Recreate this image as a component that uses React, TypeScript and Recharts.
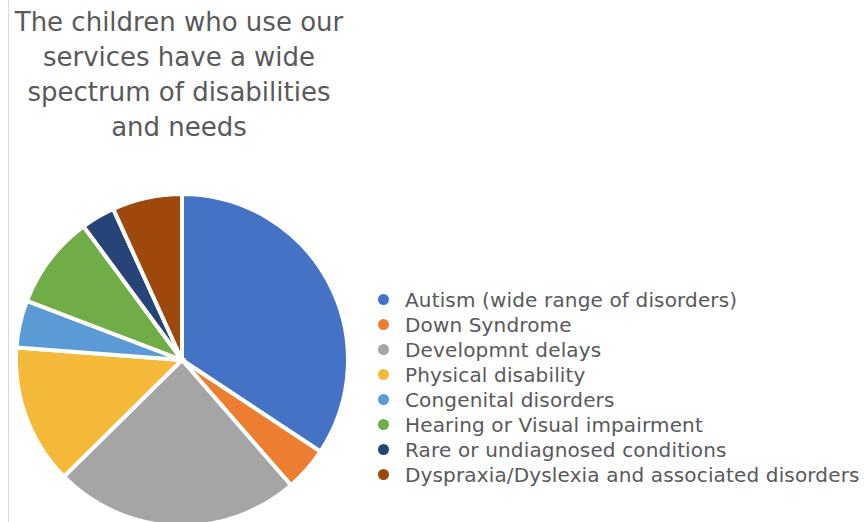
import React from "react";
import { PieChart, Pie, Cell, Legend } from "recharts";

const categories = [
  "Autism (wide range of disorders)",
  "Down Syndrome",
  "Developmnt delays",
  "Physical disability",
  "Congenital disorders",
  "Hearing or Visual impairment",
  "Rare or undiagnosed conditions",
  "Dyspraxia/Dyslexia and associated disorders",
];
const values = [34.3, 4.3, 24.0, 13.6, 4.6, 9.1, 3.3, 6.8];
const colors = ["#4472C4", "#ED7D31", "#A5A5A5", "#F5B93A", "#5B9BD5", "#70AD47", "#264478", "#9E480E"];
const titleLines = ["The children who use our", "services have a wide", "spectrum of disabilities", "and needs"];

const data = categories.map((name, i) => ({ name, value: values[i] }));

const FONT = "DejaVu Sans";

const renderLegend = () => {
  return (
    <div style={{ fontFamily: FONT, fontSize: 20, letterSpacing: 0.15, color: "#595959", whiteSpace: "nowrap" }}>
      {categories.map((name, i) => (
        <div key={i} style={{ display: "flex", alignItems: "center", height: 25 }}>
          <span
            style={{
              display: "inline-block",
              width: 11,
              height: 11,
              borderRadius: 6,
              background: colors[i],
              marginRight: 16,
              flexShrink: 0,
            }}
          />
          <span>{name}</span>
        </div>
      ))}
    </div>
  );
};

export default function App() {
  return (
    <div style={{ position: "absolute", left: 0, top: 0, width: 868, height: 522, background: "#fff", overflow: "hidden" }}>
      <div style={{ position: "absolute", left: 8, top: 0, width: 1, height: 522, background: "#d9d9d9" }} />
      <div
        style={{
          position: "absolute",
          left: 0,
          top: 5,
          width: 358,
          textAlign: "center",
          fontFamily: FONT,
          fontSize: 26,
          lineHeight: "35px",
          color: "#595959",
          whiteSpace: "nowrap",
        }}
      >
        {titleLines.map((l, i) => (
          <div key={i}>{l}</div>
        ))}
      </div>
      <PieChart width={868} height={522} style={{ position: "absolute", left: 0, top: 0 }}>
        <Pie
          data={data}
          dataKey="value"
          nameKey="name"
          cx={177}
          cy={355}
          outerRadius={166}
          startAngle={90}
          endAngle={-270}
          stroke="#ffffff"
          strokeWidth={4}
          isAnimationActive={false}
        >
          {data.map((_, i) => (
            <Cell key={i} fill={colors[i]} />
          ))}
        </Pie>
        <Legend
          layout="vertical"
          content={renderLegend}
          wrapperStyle={{ position: "absolute", left: 378, top: 287, width: 490 }}
        />
      </PieChart>
    </div>
  );
}
